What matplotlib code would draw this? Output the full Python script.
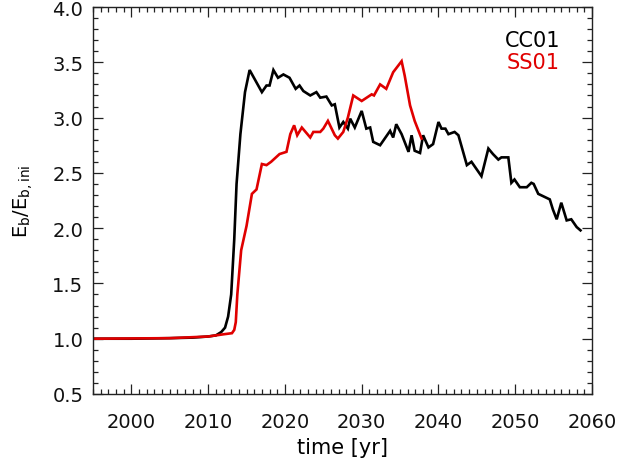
import matplotlib
matplotlib.use("Agg")
import matplotlib.pyplot as plt
from matplotlib.ticker import MultipleLocator, FormatStrFormatter

plt.rcParams['font.family'] = ['DejaVu Sans']
plt.rcParams['mathtext.fontset'] = 'dejavusans'

cc01_year = [1995, 2000, 2005, 2008, 2010, 2011, 2011.7, 2012.2, 2012.6, 2013.0, 2013.4,
             2013.7, 2014.2, 2014.8, 2015.4, 2016.2, 2017.0, 2017.6, 2018.0, 2018.5,
             2019.1, 2019.8, 2020.6, 2021.4, 2021.9, 2022.4, 2023.3, 2024.1, 2024.6,
             2025.4, 2026.1, 2026.5, 2027.1, 2027.6, 2028.2, 2028.5, 2029.1, 2030.0,
             2030.6, 2031.1, 2031.5, 2032.4, 2033.0, 2033.7, 2034.1, 2034.5, 2035.2,
             2036.1, 2036.5, 2036.9, 2037.6, 2038.0, 2038.7, 2039.3, 2040.0, 2040.4,
             2040.9, 2041.3, 2042.1, 2042.6, 2043.7, 2044.3, 2045.6, 2046.5, 2047.1,
             2047.8, 2048.2, 2049.1, 2049.5, 2049.9, 2050.6, 2051.5, 2052.1, 2052.4,
             2053.0, 2053.6, 2054.5, 2054.9, 2055.4, 2056.0, 2056.7, 2057.3, 2058.0,
             2058.5]
cc01_val = [1.00, 1.00, 1.005, 1.01, 1.02, 1.03, 1.06, 1.10, 1.20, 1.40, 1.90,
            2.40, 2.85, 3.23, 3.43, 3.33, 3.23, 3.29, 3.29, 3.43,
            3.36, 3.39, 3.36, 3.26, 3.29, 3.24, 3.20, 3.23, 3.18,
            3.19, 3.11, 3.12, 2.91, 2.96, 2.90, 2.99, 2.91, 3.06,
            2.90, 2.91, 2.78, 2.75, 2.81, 2.88, 2.82, 2.94, 2.85,
            2.69, 2.84, 2.70, 2.68, 2.84, 2.73, 2.76, 2.96, 2.90,
            2.90, 2.85, 2.87, 2.84, 2.57, 2.60, 2.47, 2.72, 2.67,
            2.62, 2.64, 2.64, 2.41, 2.44, 2.37, 2.37, 2.41, 2.40,
            2.31, 2.29, 2.26, 2.17, 2.08, 2.23, 2.07, 2.08, 2.01,
            1.98]

ss01_year = [1995, 2005, 2010, 2012, 2013.1, 2013.4, 2013.6, 2013.8, 2014.3, 2015.0,
             2015.7, 2016.3, 2017.0, 2017.6, 2018.2, 2019.3, 2020.2, 2020.7, 2021.2,
             2021.6, 2022.2, 2023.3, 2023.7, 2024.6, 2025.0, 2025.6, 2026.5, 2026.9,
             2027.6, 2028.2, 2028.9, 2030.0, 2031.3, 2031.6, 2032.4, 2032.8, 2033.2,
             2034.1, 2035.2, 2035.6, 2036.3, 2036.9, 2037.8]
ss01_val = [1.00, 1.005, 1.02, 1.04, 1.05, 1.08, 1.15, 1.40, 1.80, 2.02,
            2.31, 2.35, 2.58, 2.57, 2.60, 2.67, 2.69, 2.85, 2.93,
            2.84, 2.91, 2.82, 2.87, 2.87, 2.90, 2.97, 2.84, 2.81,
            2.87, 3.00, 3.20, 3.15, 3.21, 3.20, 3.30, 3.28, 3.26,
            3.41, 3.51, 3.38, 3.11, 2.97, 2.81]

fig = plt.figure(figsize=(6.21, 4.60), dpi=100)
ax = fig.add_axes([93/621, 1 - 395/460, (592 - 93)/621, (395 - 8)/460])

ax.plot(cc01_year, cc01_val, color='black', lw=1.9, solid_joinstyle='miter')
ax.plot(ss01_year, ss01_val, color='#e00000', lw=1.9, solid_joinstyle='miter')

ax.set_xlim(1995, 2060)
ax.set_ylim(0.5, 4.0)
ax.xaxis.set_major_locator(MultipleLocator(10))
ax.xaxis.set_minor_locator(MultipleLocator(1))
ax.yaxis.set_major_locator(MultipleLocator(0.5))
ax.yaxis.set_minor_locator(MultipleLocator(0.1))
ax.yaxis.set_major_formatter(FormatStrFormatter('%.1f'))

ax.tick_params(which='both', direction='in', top=True, right=True,
               labelsize=14, color='#222222', width=0.9, labelcolor='#111111')
ax.tick_params(which='major', length=7)
ax.tick_params(which='minor', length=3.5)
ax.tick_params(axis='x', which='major', pad=13)
ax.tick_params(axis='y', which='major', pad=7)
for s in ax.spines.values():
    s.set_linewidth(1.0)
    s.set_color('#222222')

ax.set_xlabel('time [yr]', fontsize=15, labelpad=4)
ax.set_ylabel(r'E$_\mathregular{b}$/E$_\mathregular{b,ini}$', fontsize=14)
ax.yaxis.set_label_coords(-0.117, 0.5)

ax.text(0.936, 0.915, 'CC01', transform=ax.transAxes, ha='right', va='center',
        fontsize=15, color='black')
ax.text(0.936, 0.858, 'SS01', transform=ax.transAxes, ha='right', va='center',
        fontsize=15, color='#e00000')

fig.savefig('out.png', dpi=100)
